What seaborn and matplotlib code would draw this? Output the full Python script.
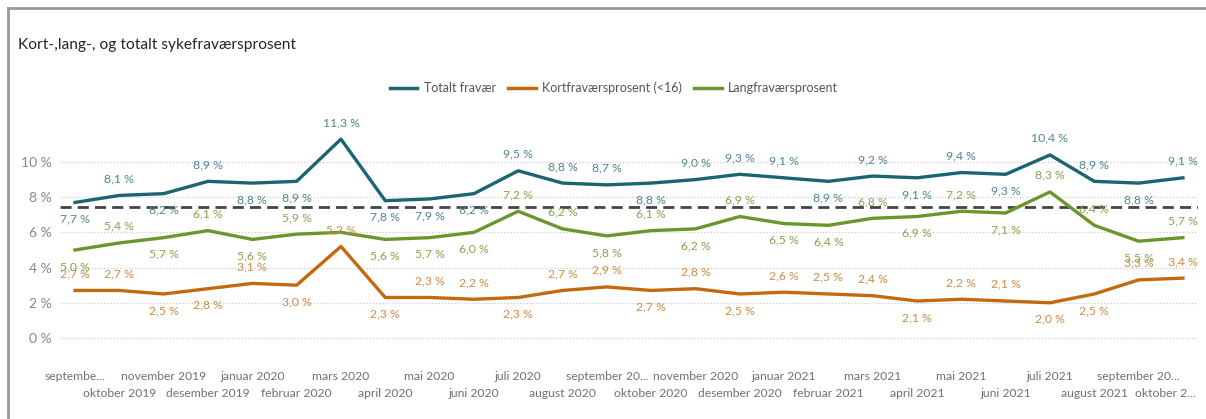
import pandas as pd
import matplotlib.pyplot as plt
import seaborn as sns
from matplotlib.lines import Line2D

# --------------------- Data ---------------------
months = [
    "septembe...", "oktober 2019", "november 2019", "desember 2019",
    "januar 2020", "februar 2020", "mars 2020", "april 2020", "mai 2020",
    "juni 2020", "juli 2020", "august 2020", "september 20...", "oktober 2020",
    "november 2020", "desember 2020", "januar 2021", "februar 2021",
    "mars 2021", "april 2021", "mai 2021", "juni 2021", "juli 2021",
    "august 2021", "september 20...", "oktober 2...",
]
totalt = [7.7, 8.1, 8.2, 8.9, 8.8, 8.9, 11.3, 7.8, 7.9, 8.2, 9.5, 8.8, 8.7,
          8.8, 9.0, 9.3, 9.1, 8.9, 9.2, 9.1, 9.4, 9.3, 10.4, 8.9, 8.8, 9.1]
kort = [2.7, 2.7, 2.5, 2.8, 3.1, 3.0, 5.2, 2.3, 2.3, 2.2, 2.3, 2.7, 2.9,
        2.7, 2.8, 2.5, 2.6, 2.5, 2.4, 2.1, 2.2, 2.1, 2.0, 2.5, 3.3, 3.4]
lang = [5.0, 5.4, 5.7, 6.1, 5.6, 5.9, 6.0, 5.6, 5.7, 6.0, 7.2, 6.2, 5.8,
        6.1, 6.2, 6.9, 6.5, 6.4, 6.8, 6.9, 7.2, 7.1, 8.3, 6.4, 5.5, 5.7]
# where each data label sits: a = above, b = below, "-" = hidden
totalt_pos = "babab" + "babbba" + "aabaaa" + "babab" + "aaba"
kort_pos = "aabbab" + "abaabaa" + "baba" + "aabaabb" + "aa"
lang_pos = "bababa" + "-" + "bbba" + "ababa" + "bbababaaba"
average = 7.45

series_names = ["Totalt fravær", "Kortfraværsprosent (<16)", "Langfraværsprosent"]
line_colors = ["#1a6570", "#c5690f", "#6a962c"]
label_colors = ["#4f8690", "#cf8c45", "#8aa34e"]

# --------------------- Build long table ---------------------
frames = []
for name, vals in zip(series_names, [totalt, kort, lang]):
    frames.append(pd.DataFrame({"idx": range(len(months)), "value": vals, "serie": name}))
df = pd.concat(frames, ignore_index=True)

# --------------------- Plot ---------------------
plt.rcParams["font.family"] = ["Lato", "DejaVu Sans"]
fig = plt.figure(figsize=(12.06, 4.19), dpi=100)
ax = fig.add_axes([60 / 1206, 1 - 345 / 419, 1138 / 1206, 230 / 419])

sns.lineplot(data=df, x="idx", y="value", hue="serie", palette=line_colors,
             hue_order=series_names, linewidth=2.4, ax=ax, legend=False)

ax.axhline(average, color="#444444", linestyle=(0, (4, 2.2)), linewidth=2.0, zorder=1)

# data labels
for vals, pos, col in zip([totalt, kort, lang], [totalt_pos, kort_pos, lang_pos], label_colors):
    for i, (v, p) in enumerate(zip(vals, pos)):
        if p == "-":
            continue
        dy = 8 if p == "a" else -8
        ax.annotate(f"{v:.1f} %".replace(".", ","), (i, v), xytext=(0, dy),
                    textcoords="offset points", ha="center",
                    va="bottom" if p == "a" else "top", fontsize=8.8, color=col)

ax.set_xlim(-0.34, len(months) - 1 + 0.34)
ax.set_ylim(-0.4, 12.67)
ax.set_yticks([0, 2, 4, 6, 8, 10])
ax.set_yticklabels([f"{t} %" for t in [0, 2, 4, 6, 8, 10]])
ax.set_xticks(range(len(months)))
ax.set_xticklabels([])
ax.tick_params(axis="x", length=0)
ax.tick_params(axis="y", length=0, pad=6, labelsize=10, labelcolor="#888888")

# staggered month labels: every other one on a second row
xlab_trans = ax.get_xaxis_transform()
for i, m in enumerate(months):
    ypos = -0.209 if i % 2 else -0.135
    xpos, ha = (i, "center")
    if i == len(months) - 1:
        xpos, ha = (i + 0.3, "right")
    ax.text(xpos, ypos, m, transform=xlab_trans, ha=ha, va="center",
            fontsize=8.7, color="#707070")

ax.grid(axis="y", color="#cccccc", linestyle=(0, (1, 1.5)), linewidth=0.9)
ax.grid(axis="x", visible=False)
ax.set_xlabel("")
ax.set_ylabel("")
for s in ax.spines.values():
    s.set_visible(False)

# legend
handles = [Line2D([0], [0], color=c, linewidth=2.5) for c in line_colors]
fig.legend(handles, series_names, loc="center", bbox_to_anchor=(614 / 1206, 1 - 88 / 419),
           ncol=3, frameon=False, fontsize=9, handlelength=2.2, columnspacing=1.0,
           handletextpad=0.5, labelcolor="#555555")

# title and card frame
fig.text(18 / 1206, 1 - 45 / 419, "Kort-,lang-, og totalt sykefraværsprosent",
         fontsize=11.2, color="#252525", va="center")
fig.add_artist(Line2D([8 / 1206, 1], [1 - 8 / 419] * 2, color="#999999", linewidth=2))
fig.add_artist(Line2D([8 / 1206] * 2, [1 - 8 / 419, 0], color="#999999", linewidth=2))

plt.savefig("out.png", dpi=100)
